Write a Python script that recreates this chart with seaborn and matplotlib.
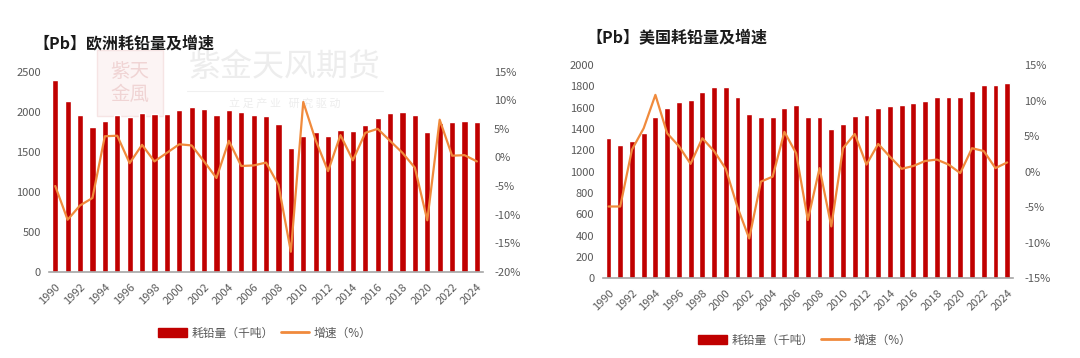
import numpy as np
import pandas as pd
import matplotlib
matplotlib.use('Agg')
import matplotlib.pyplot as plt
import matplotlib.ticker as mticker
from matplotlib.patches import Patch, Rectangle
from matplotlib.lines import Line2D
import seaborn as sns

sns.set_style('white')
plt.rcParams['font.family'] = ['Noto Sans CJK SC', 'DejaVu Sans']

years = [str(y) for y in range(1990, 2025)]

# 欧洲耗铅量（千吨）及增速（%）
eu_consumption = [2396, 2133, 1955, 1813, 1880, 1955, 1934, 1980, 1967, 1971,
                  2021, 2054, 2038, 1963, 2021, 1992, 1963, 1946, 1850, 1550,
                  1700, 1746, 1700, 1767, 1755, 1830, 1925, 1980, 1996, 1955,
                  1746, 1863, 1867, 1880, 1867]
eu_growth = [-5.0, -10.9, -8.4, -7.1, 3.7, 3.8, -1.0, 2.2, -0.7, 0.8,
             2.3, 2.1, -0.7, -3.6, 2.9, -1.5, -1.4, -0.9, -4.8, -16.5,
             9.7, 3.0, -2.4, 3.9, -0.5, 4.3, 5.0, 2.9, 0.8, -1.8,
             -11.0, 6.6, 0.3, 0.4, -0.7]

# 美国耗铅量（千吨）及增速（%）
us_consumption = [1312, 1250, 1290, 1365, 1515, 1594, 1650, 1672, 1747, 1797,
                  1797, 1697, 1537, 1515, 1510, 1594, 1628, 1515, 1515, 1403,
                  1447, 1522, 1528, 1594, 1619, 1628, 1644, 1662, 1697, 1703,
                  1703, 1759, 1809, 1809, 1831]
us_growth = [-4.9, -4.9, 3.1, 6.1, 10.8, 5.4, 3.6, 1.1, 4.7, 2.9,
             0.4, -5.0, -9.4, -1.4, -0.7, 5.6, 2.6, -6.8, 0.5, -7.7,
             3.3, 5.3, 1.0, 3.9, 2.1, 0.4, 0.8, 1.5, 1.7, 1.0,
             -0.2, 3.3, 2.9, 0.5, 1.3]

BAR = '#C00000'
LINE = '#F08A3C'
TXT = '#595959'

fig = plt.figure(figsize=(10.8, 3.58), dpi=100)


def draw(rect, cons, growth, ylim, yticks, y2lim, y2ticks):
    ax = fig.add_axes(rect)
    df = pd.DataFrame({'year': years, 'v': cons})
    sns.barplot(data=df, x='year', y='v', color=BAR, saturation=1,
                width=0.5, ax=ax, zorder=2)
    ax2 = ax.twinx()
    sns.lineplot(x=np.arange(len(years)), y=growth, color=LINE,
                 linewidth=1.6, ax=ax2)
    ax.set_xlim(-0.5, len(years) - 0.5)
    ax.set_ylim(*ylim)
    ax.set_yticks(yticks)
    ax2.set_ylim(*y2lim)
    ax2.set_yticks(y2ticks)
    ax2.yaxis.set_major_formatter(mticker.FuncFormatter(lambda v, p: f'{v:.0f}%'))
    ax.set_xticks(range(0, len(years), 2))
    ax.set_xticklabels(years[::2], rotation=45, ha='right',
                       rotation_mode='anchor')
    ax.set_xlabel('')
    ax.set_ylabel('')
    ax2.set_ylabel('')
    for a in (ax, ax2):
        for s in a.spines.values():
            s.set_visible(False)
        a.tick_params(length=0, labelsize=8, labelcolor=TXT)
        a.grid(False)
    ax.spines['bottom'].set_visible(True)
    ax.spines['bottom'].set_color('#A6A6A6')
    ax.spines['bottom'].set_linewidth(1.2)
    ax.tick_params(axis='x', pad=7)
    ax.tick_params(axis='y', pad=6)
    ax2.tick_params(axis='y', pad=8)
    return ax, ax2


axL, axL2 = draw([0.0454, 0.241, 0.4019, 0.5587], eu_consumption, eu_growth,
                 (0, 2500), range(0, 2501, 500), (-20, 15), range(-20, 16, 5))
axR, axR2 = draw([0.558, 0.2226, 0.38, 0.5958], us_consumption, us_growth,
                 (0, 2000), range(0, 2001, 200), (-15, 15), range(-15, 16, 5))

# titles
fig.text(0.031, 1 - 43 / 358, '【Pb】欧洲耗铅量及增速', fontsize=11.5,
         fontweight='bold', color='#1a1a1a', va='center', ha='left')
fig.text(0.543, 1 - 37 / 358, '【Pb】美国耗铅量及增速', fontsize=11.5,
         fontweight='bold', color='#1a1a1a', va='center', ha='left')

# watermark (behind the bars)
wm = dict(transform=fig.transFigure, clip_on=False, zorder=0.5)
axL.text(285 / 1080, 1 - 67 / 358, '紫金天风期货', fontsize=23, color='#EDEDED',
         ha='center', va='center', **wm)
axL.text(285 / 1080, 1 - 104 / 358, '立 足 产 业   研 究 驱 动', fontsize=8,
         color='#EDEDED', ha='center', va='center', **wm)
axL.add_line(Line2D([187 / 1080, 383 / 1080], [1 - 91 / 358, 1 - 91 / 358],
                    color='#F0F0F0', lw=0.8, **wm))
axL.add_patch(Rectangle((97 / 1080, 1 - 116 / 358), 66 / 1080, 66 / 358,
                        facecolor='#FCF4F4', edgecolor='#F6E4E4', lw=1, **wm))
axL.text(130 / 1080, 1 - 83 / 358, '紫天\n金風', fontsize=14, color='#F0D4D4',
         ha='center', va='center', linespacing=1.15, **wm)

# legends
for cx, cy in ((265 / 1080, 1 - 333 / 358), (805 / 1080, 1 - 340 / 358)):
    handles = [Patch(facecolor=BAR, edgecolor=BAR),
               Line2D([], [], color=LINE, lw=2)]
    leg = fig.legend(handles, ['耗铅量（千吨）', '增速（%）'], loc='center',
                     bbox_to_anchor=(cx, cy), ncol=2, frameon=False,
                     fontsize=8.5, handlelength=2.4, handleheight=0.7,
                     columnspacing=0.6, handletextpad=0.4)
    for t in leg.get_texts():
        t.set_color(TXT)

fig.savefig('out.png', dpi=100)
